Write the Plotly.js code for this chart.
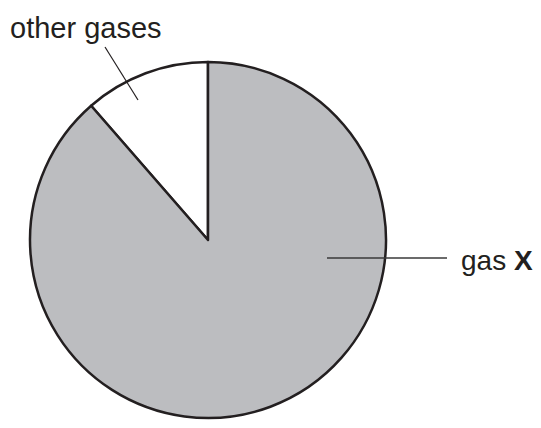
<!DOCTYPE html>
<html>
<head>
<meta charset="utf-8">
<script src="https://cdn.plot.ly/plotly-3.0.1.min.js"></script>
<style>html,body{margin:0;padding:0;background:#fff;}#chart{width:541px;height:428px;}</style>
</head>
<body>
<div id="chart"></div>
<script>
const labels = ["other gases", "gas X"];
const values = [11.4, 88.6];
const colors = ["#ffffff", "#bcbdc0"];

const total = values.reduce((a, b) => a + b, 0);
const data = [{
  type: "pie",
  labels: labels,
  values: values,
  sort: false,
  direction: "clockwise",
  rotation: -values[0] / total * 360,
  textinfo: "none",
  hoverinfo: "none",
  showlegend: false,
  marker: { colors: colors, line: { color: "#231f20", width: 2.5 } },
  domain: { x: [30/541, 386/541], y: [10/428, 366/428] }
}];

const layout = {
  width: 541, height: 428,
  margin: { l: 0, r: 0, t: 0, b: 0 },
  paper_bgcolor: "#ffffff",
  font: { family: "Liberation Sans, Arial, sans-serif", color: "#231f20" },
  annotations: [
    { text: labels[0], xref: "paper", yref: "paper", x: 8/541, y: 1 - 28/428,
      xanchor: "left", yanchor: "middle", showarrow: false, font: { size: 29, color: "#231f20" } },
    { text: "gas <b>X</b>", xref: "paper", yref: "paper", x: 459/541, y: 1 - 260/428,
      xanchor: "left", yanchor: "middle", showarrow: false, font: { size: 28, color: "#231f20" } }
  ],
  shapes: [
    { type: "line", xref: "paper", yref: "paper", x0: 105/541, y0: 1 - 47/428, x1: 138/541, y1: 1 - 100/428,
      line: { color: "#231f20", width: 1.2 } },
    { type: "line", xref: "paper", yref: "paper", x0: 327/541, y0: 1 - 258/428, x1: 447/541, y1: 1 - 258/428,
      line: { color: "#3a3a3a", width: 1.4 } }
  ]
};

Plotly.newPlot("chart", data, layout, { displayModeBar: false, staticPlot: true });
</script>
</body>
</html>
